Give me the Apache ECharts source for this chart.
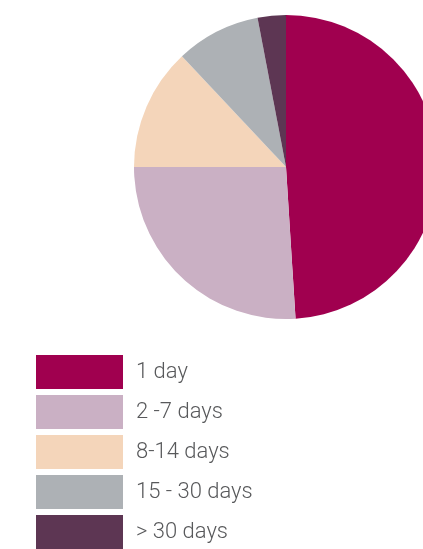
<!DOCTYPE html>
<html>
<head>
<meta charset="utf-8">
<script src="https://cdn.jsdelivr.net/npm/echarts@6/dist/echarts.min.js"></script>
<style>
  html, body { margin: 0; padding: 0; background: #ffffff; }
  #chart { width: 423px; height: 549px; }
</style>
</head>
<body>
<div id="chart"></div>
<script>
// Length of stay categories and their shares (%)
const categories = ['1 day', '2 -7 days', '8-14 days', '15 - 30 days', '> 30 days'];
const shares = [49, 26, 13, 9, 3];
const colors = ['#A0004F', '#CAB0C4', '#F4D5BA', '#ADB1B5', '#5D3653'];

const chart = echarts.init(document.getElementById('chart'), null, { renderer: 'canvas' });

chart.setOption({
  animation: false,
  color: colors,
  legend: {
    orient: 'vertical',
    left: 31,
    top: 350,
    height: 199,
    padding: 5,
    icon: 'rect',
    itemWidth: 87,
    itemHeight: 34,
    itemGap: 6,
    selectedMode: false,
    data: categories,
    textStyle: {
      color: '#58595B',
      fontSize: 22,
      fontFamily: 'Roboto',
      fontWeight: 300,
      padding: [6, 0, 0, 8]
    }
  },
  series: [{
    type: 'pie',
    center: [286, 167],
    radius: 152,
    startAngle: 90,
    clockwise: true,
    label: { show: false },
    labelLine: { show: false },
    emphasis: { disabled: true },
    itemStyle: { borderWidth: 0 },
    data: categories.map((name, i) => ({ name, value: shares[i] }))
  }]
});
</script>
</body>
</html>
